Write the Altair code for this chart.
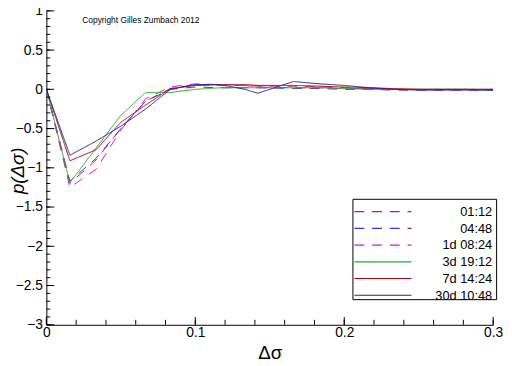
import altair as alt
import pandas as pd

# x positions of the sampled points (Delta sigma)
x_vals = [0.0, 0.0158, 0.0333, 0.05, 0.0667, 0.0833, 0.1, 0.1167, 0.1333, 0.142,
          0.166, 0.183, 0.2, 0.217, 0.233, 0.25, 0.267, 0.283, 0.3]

series_names = ["01:12", "04:48", "1d 08:24", "3d 19:12", "7d 14:24", "30d 10:48"]

y_0112 = [0, -1.20, -0.90, -0.50, -0.15, 0.01, 0.06, 0.05, 0.05, 0.04,
          0.04, 0.03, 0.02, 0.01, 0.0, 0.0, 0.0, 0.0, 0.0]
y_0448 = [0, -1.17, -0.88, -0.50, -0.15, 0.0, 0.03, 0.02, 0.02, 0.02,
          0.01, 0.01, 0.0, 0.0, -0.01, -0.01, -0.01, -0.01, -0.01]
y_1d0824 = [0, -1.25, -1.02, -0.52, -0.12, 0.03, 0.07, 0.06, 0.05, 0.03,
            0.02, 0.02, 0.01, 0.01, 0.0, 0.0, 0.0, 0.0, 0.0]
y_3d1912 = [0, -1.19, -0.75, -0.33, -0.04, -0.04, 0.0, 0.02, 0.02, 0.02,
            0.02, 0.02, 0.01, 0.0, 0.0, 0.0, 0.0, 0.0, -0.01]
y_7d1424 = [0, -0.91, -0.77, -0.42, -0.20, 0.01, 0.05, 0.06, 0.06, 0.05,
            0.05, 0.04, 0.03, 0.02, 0.01, 0.0, 0.0, 0.0, 0.0]
y_30d1048 = [0, -0.84, -0.66, -0.47, -0.25, 0.0, 0.06, 0.06, 0.0, -0.05,
             0.10, 0.07, 0.05, 0.02, 0.0, -0.01, -0.01, -0.01, -0.01]

all_y = [y_0112, y_0448, y_1d0824, y_3d1912, y_7d1424, y_30d1048]

colors = ["#cc1a3a", "#3a3acc", "#e010e0", "#20b020", "#b00010", "#2020a0"]
dashes = [[10, 8], [10, 8], [10, 8], [1, 0], [1, 0], [1, 0]]

y_major = [1, 0.5, 0, -0.5, -1, -1.5, -2, -2.5, -3]
y_minor = [round(-3 + 0.1 * i, 2) for i in range(41)]
x_major = [0, 0.1, 0.2, 0.3]
x_minor = [round(0.02 * i, 2) for i in range(16)]

rows = []
for name, ys in zip(series_names, all_y):
    for i, (xv, yv) in enumerate(zip(x_vals, ys)):
        rows.append({"series": name, "x": xv, "y": yv, "i": i})
df = pd.DataFrame(rows)

legend_df = pd.DataFrame({"series": series_names, "k": list(range(len(series_names)))})

W, H = 454, 319
FONT = "Liberation Sans"

xscale = alt.Scale(domain=[0, 0.3], nice=False, zero=False)
yscale = alt.Scale(domain=[-3, 1], nice=False, zero=False)
cscale = alt.Scale(domain=series_names, range=colors)
dscale = alt.Scale(domain=series_names, range=dashes)

x_axis = alt.Axis(values=x_major, format="~g", ticks=False, grid=False,
                  domainColor="black", labelColor="black", labelFont=FONT,
                  labelFontSize=14, labelPadding=1, title="Δσ",
                  titleFont=FONT, titleFontSize=19, titleFontWeight="normal",
                  titleColor="black", titlePadding=4,
                  labelOverlap=False, labelFlush=False)
y_axis = alt.Axis(values=y_major, format="~g", ticks=False, grid=False,
                  domainColor="black", labelColor="black", labelFont=FONT,
                  labelFontSize=14, labelPadding=4, title="p(Δσ)",
                  titleFont=FONT, titleFontSize=19, titleFontWeight="normal",
                  titleFontStyle="italic", titleX=-29, titleY=162,
                  titleBaseline="middle", titleAngle=270,
                  titleColor="black", labelOverlap=False)

lines = alt.Chart(df).mark_line(strokeWidth=1, clip=True).encode(
    x=alt.X("x:Q", scale=xscale, axis=x_axis),
    y=alt.Y("y:Q", scale=yscale, axis=y_axis),
    color=alt.Color("series:N", scale=cscale, legend=None),
    strokeDash=alt.StrokeDash("series:N", scale=dscale, legend=None),
    order="i:Q",
)

ymaj_df = pd.DataFrame({"v": y_major})
ymin_df = pd.DataFrame({"v": y_minor})
xmaj_df = pd.DataFrame({"v": x_major})
xmin_df = pd.DataFrame({"v": x_minor})

ytick_major = alt.Chart(ymaj_df).mark_rule(color="black", strokeWidth=1).encode(
    y=alt.Y("v:Q", scale=yscale, axis=y_axis), x=alt.value(0), x2=alt.value(8))
ytick_minor = alt.Chart(ymin_df).mark_rule(color="black", strokeWidth=1).encode(
    y=alt.Y("v:Q", scale=yscale, axis=y_axis), x=alt.value(0), x2=alt.value(4))
xtick_major = alt.Chart(xmaj_df).mark_rule(color="black", strokeWidth=1).encode(
    x=alt.X("v:Q", scale=xscale, axis=x_axis), y=alt.value(H), y2=alt.value(H - 8))
xtick_minor = alt.Chart(xmin_df).mark_rule(color="black", strokeWidth=1).encode(
    x=alt.X("v:Q", scale=xscale, axis=x_axis), y=alt.value(H), y2=alt.value(H - 5))

copyright_df = pd.DataFrame({"t": ["Copyright Gilles Zumbach 2012"]})
copyright = alt.Chart(copyright_df).mark_text(
    font=FONT, fontSize=8.5, color="black", align="center", baseline="middle"
).encode(text="t:N", x=alt.value(96), y=alt.value(9))

# legend box (manual, to match the right-aligned labels of the original)
legend_box = alt.Chart(copyright_df).mark_rect(
    fill="white", stroke="black", strokeWidth=1
).encode(x=alt.value(311.5), x2=alt.value(457.5), y=alt.value(191.5), y2=alt.value(293.5))

legend_lines = alt.Chart(legend_df).mark_rule(strokeWidth=1.2).transform_calculate(
    py="204 + datum.k * 17"
).encode(
    y=alt.Y("py:Q", scale=None, axis=None),
    x=alt.value(313), x2=alt.value(371),
    color=alt.Color("series:N", scale=cscale, legend=None),
    strokeDash=alt.StrokeDash("series:N", scale=dscale, legend=None),
)

legend_text = alt.Chart(legend_df).mark_text(
    font=FONT, fontSize=13, color="black", align="right", baseline="middle"
).transform_calculate(
    py="204.5 + datum.k * 17"
).encode(
    y=alt.Y("py:Q", scale=None, axis=None),
    x=alt.value(453),
    text="series:N",
)

chart = alt.layer(lines, ytick_major, ytick_minor, xtick_major, xtick_minor, copyright,
                  legend_box, legend_lines, legend_text).properties(
    width=W, height=H,
    autosize=alt.AutoSizeParams(type="none"),
    padding={"left": 39, "top": 0, "right": 11, "bottom": 39},
).configure_view(stroke=None).configure_axis(domainWidth=1)

chart.save("out.html", embed_options={"renderer": "svg", "actions": False})
